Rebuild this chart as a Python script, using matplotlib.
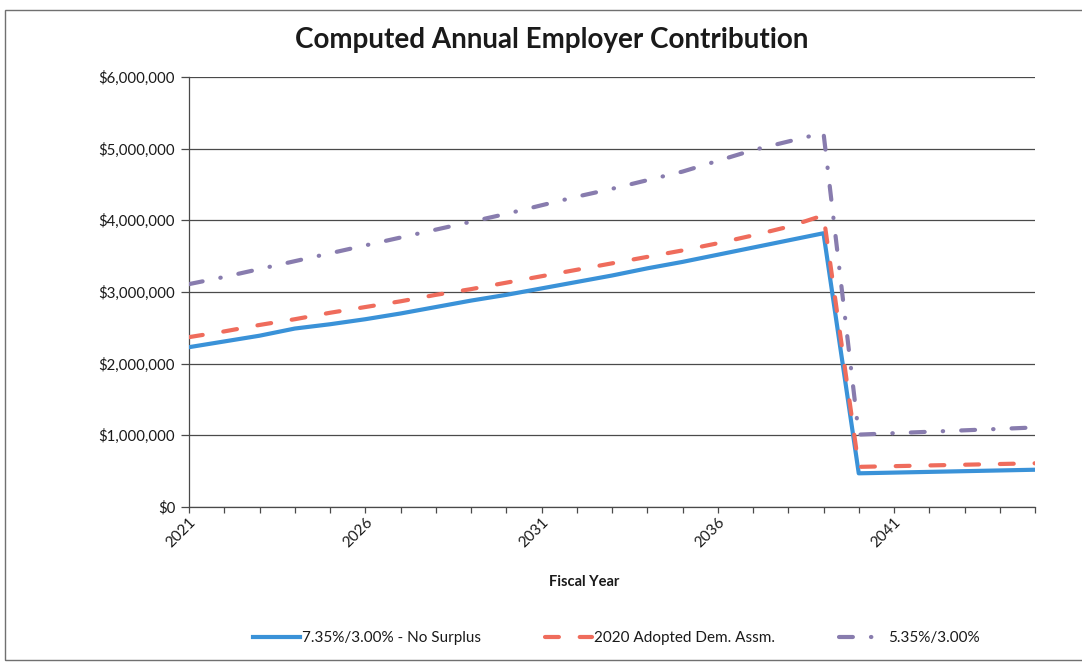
import matplotlib
matplotlib.use("Agg")
import matplotlib.pyplot as plt
from matplotlib.patches import Rectangle
from matplotlib.ticker import FuncFormatter
import numpy as np

plt.rcParams['font.family'] = ['Lato', 'DejaVu Sans']
plt.rcParams['lines.scale_dashes'] = False

years = list(range(2021, 2046))

# employer contribution by fiscal year, dollars
no_surplus = [2.23, 2.31, 2.39, 2.49, 2.55, 2.62, 2.70, 2.79, 2.88, 2.96,
              3.05, 3.14, 3.23, 3.33, 3.42, 3.52, 3.62, 3.72, 3.82,
              0.47, 0.48, 0.49, 0.50, 0.51, 0.52]
adopted_2020 = [2.37, 2.45, 2.54, 2.62, 2.71, 2.79, 2.87, 2.96, 3.04, 3.13,
                3.22, 3.31, 3.40, 3.49, 3.58, 3.68, 3.79, 3.91, 4.07,
                0.56, 0.57, 0.58, 0.59, 0.60, 0.61]
rate_535 = [3.11, 3.21, 3.32, 3.43, 3.54, 3.65, 3.76, 3.87, 3.98, 4.09,
            4.21, 4.33, 4.44, 4.56, 4.68, 4.83, 4.98, 5.10, 5.22,
            1.01, 1.03, 1.05, 1.07, 1.09, 1.11]
no_surplus = [v * 1e6 for v in no_surplus]
adopted_2020 = [v * 1e6 for v in adopted_2020]
rate_535 = [v * 1e6 for v in rate_535]

labels = ['7.35%/3.00% - No Surplus', '2020 Adopted Dem. Assm.', '5.35%/3.00%']
y_ticks = [0, 1e6, 2e6, 3e6, 4e6, 5e6, 6e6]

fig = plt.figure(figsize=(10.82, 6.65), dpi=100)
ax = fig.add_axes([189 / 1082, 1 - 507 / 665, (1035 - 189) / 1082, (507 - 77) / 665])

ax.plot(years, no_surplus, color='#3A92D8', lw=3.0, solid_joinstyle='round',
        label=labels[0], zorder=3)
ax.plot(years, adopted_2020, color='#EF6C5C', lw=3.0, dash_capstyle='round',
        ls=(0, (10, 15)), label=labels[1], zorder=4)
ax.plot(years, rate_535, color='#887CAE', lw=3.0, dash_capstyle='round',
        ls=(0, (10, 13, 0.3, 13)), label=labels[2], zorder=5)

ax.set_xlim(2021, 2045)
ax.set_ylim(0, 6e6)
ax.set_yticks(y_ticks)
ax.yaxis.set_major_formatter(FuncFormatter(lambda v, p: '${:,.0f}'.format(v)))
ax.set_xticks(years)
ax.set_xticklabels([str(y) if (y - 2021) % 5 == 0 else '' for y in years],
                   rotation=45, ha='right', va='top', rotation_mode='anchor')

ax.grid(axis='y', color='#4a4a4a', lw=0.9)
ax.set_axisbelow(True)
for s in ['top', 'right']:
    ax.spines[s].set_visible(False)
for s in ['left', 'bottom']:
    ax.spines[s].set_color('#4a4a4a')
    ax.spines[s].set_linewidth(0.9)
ax.tick_params(axis='y', length=6, width=0.9, color='#4a4a4a', labelsize=10.8,
               labelcolor='#1a1a1a', pad=4)
ax.tick_params(axis='x', length=4, width=0.9, color='#4a4a4a', labelsize=11,
               labelcolor='#1a1a1a', pad=2)

fig.text(552 / 1082, 1 - 40 / 665, 'Computed Annual Employer Contribution',
         ha='center', va='center', fontsize=20, fontweight='bold', color='#1a1a1a')
fig.text(584 / 1082, 1 - 582 / 665, 'Fiscal Year', ha='center', va='center',
         fontsize=10.5, fontweight='bold', color='#1a1a1a')

fig.legend(loc='center', bbox_to_anchor=(616 / 1082, 1 - 638 / 665), ncol=3,
           frameon=False, fontsize=11, handlelength=3.1, handletextpad=0.1,
           columnspacing=4.2, labelcolor='#1a1a1a')

# chart area border
fig.patches.append(Rectangle((5 / 1082, 1 - 660 / 665), 1.1, (660 - 10) / 665,
                             transform=fig.transFigure, fill=False,
                             edgecolor='#707070', lw=1.0))

fig.savefig('out.png', dpi=100)
